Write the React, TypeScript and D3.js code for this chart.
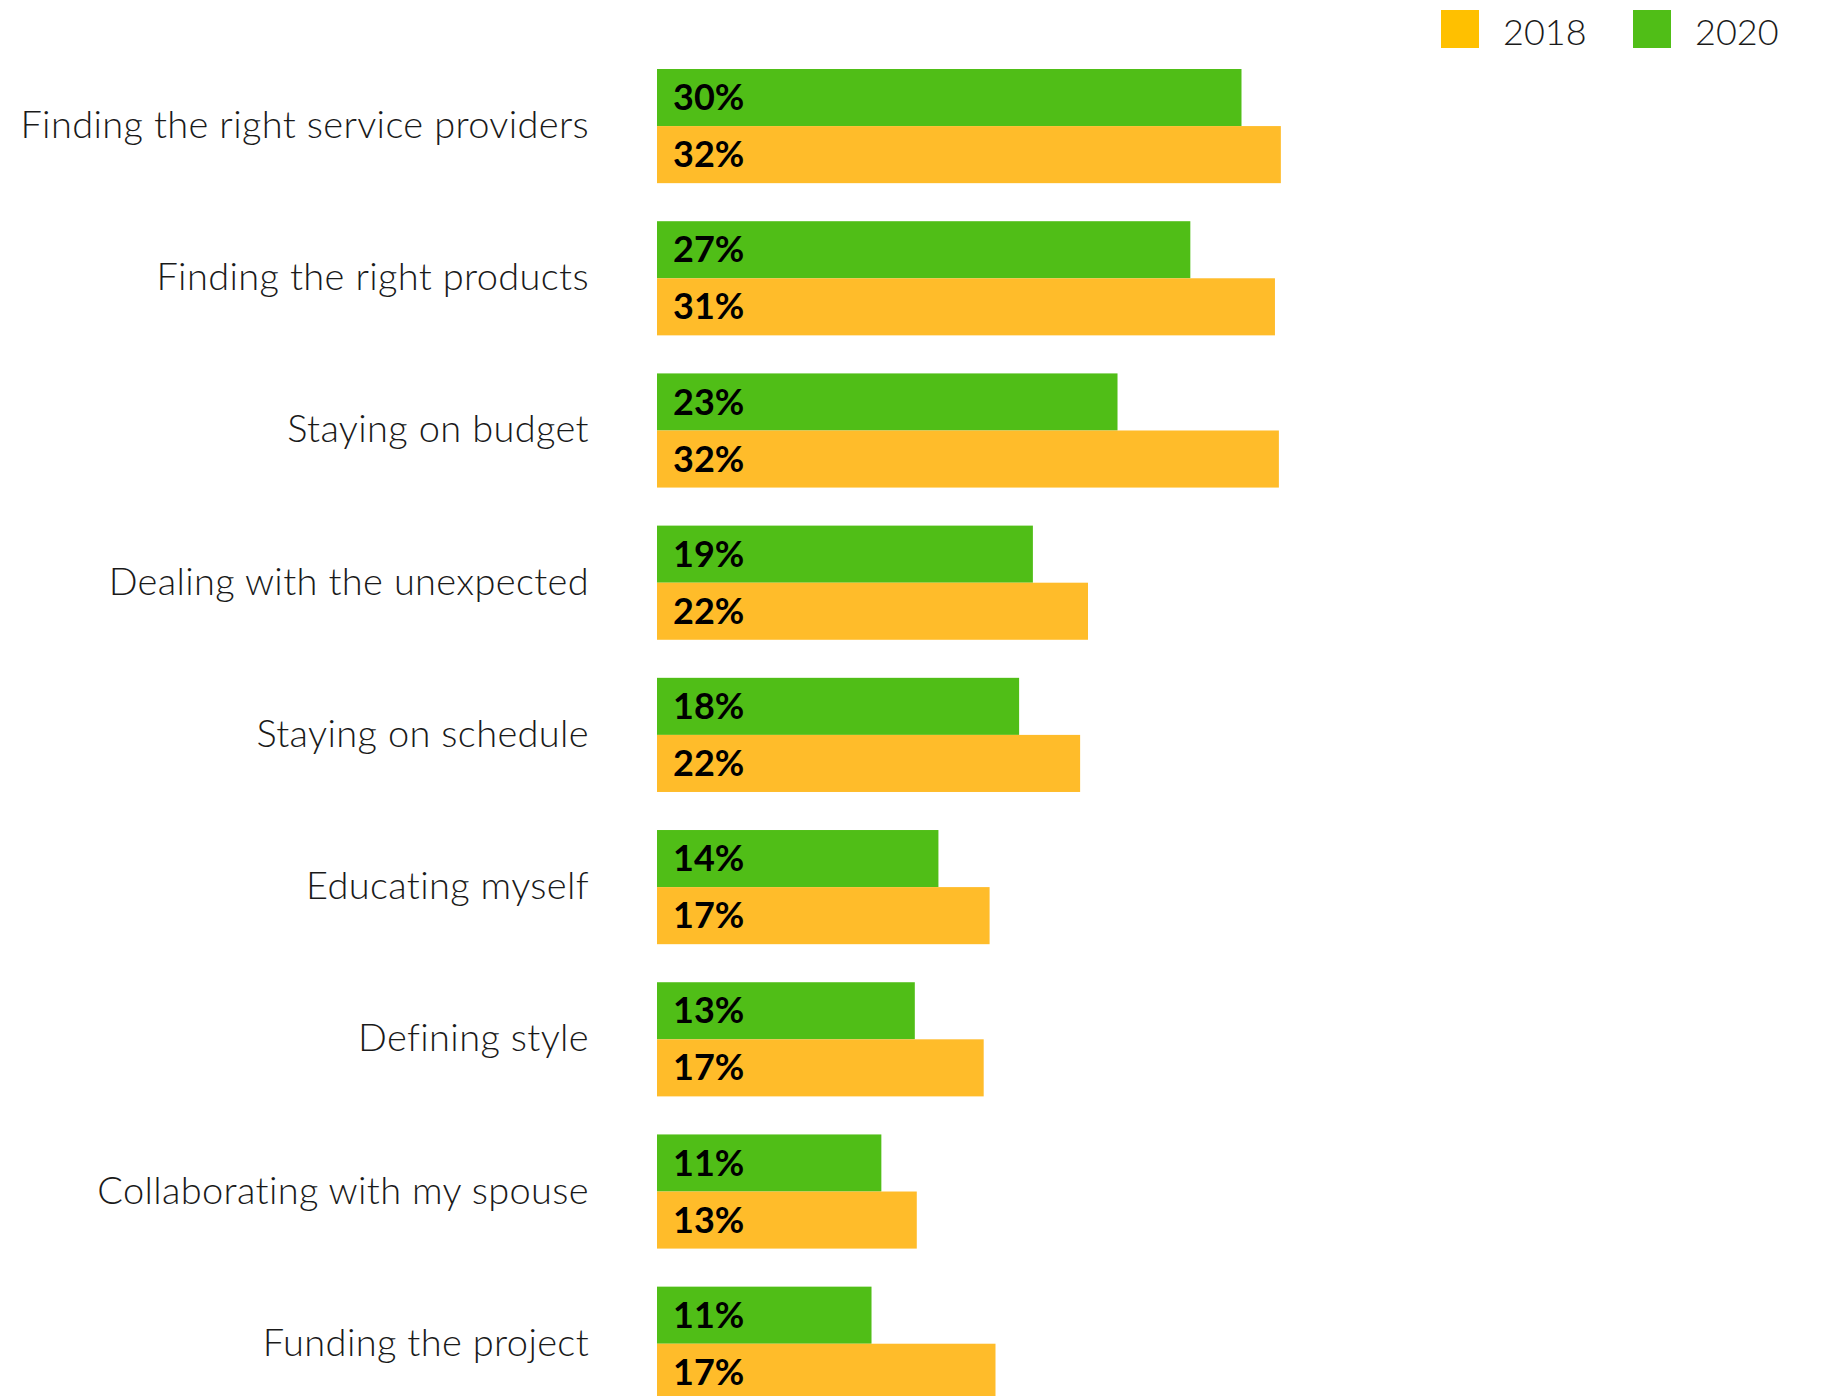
import { useEffect, useRef } from 'react'
import * as d3 from 'd3'

const categories = [
  'Finding the right service providers',
  'Finding the right products',
  'Staying on budget',
  'Dealing with the unexpected',
  'Staying on schedule',
  'Educating myself',
  'Defining style',
  'Collaborating with my spouse',
  'Funding the project',
]

// share of respondents, %
const values2020 = [29.7, 27.1, 23.4, 19.1, 18.4, 14.3, 13.1, 11.4, 10.9]
const values2018 = [31.7, 31.4, 31.6, 21.9, 21.5, 16.9, 16.6, 13.2, 17.2]

const seriesKeys = ['2020', '2018']
const legendKeys = ['2018', '2020']

const barColor: Record<string, string> = { '2020': '#50be17', '2018': '#ffbc2a' }
const legendColor: Record<string, string> = { '2020': '#50be17', '2018': '#ffc000' }

const W = 1823
const H = 1396

export default function App() {
  const ref = useRef<SVGSVGElement>(null)

  useEffect(() => {
    if (!ref.current) return
    const svg = d3.select(ref.current)
    svg.selectAll('*').remove()

    const rows = categories.map((c, i) => ({
      category: c,
      values: { '2020': values2020[i], '2018': values2018[i] } as Record<string, number>,
    }))

    const left = 657
    const x = d3.scaleLinear().domain([0, 100]).range([left, left + 1968])

    const y = d3
      .scaleBand<string>()
      .domain(categories)
      .range([69, 1400.8])
      .paddingInner(0.25)
      .paddingOuter(0)

    const ySub = d3.scaleBand<string>().domain(seriesKeys).range([0, y.bandwidth()])

    const font = 'Lato, "Open Sans", sans-serif'

    const groups = svg
      .append('g')
      .selectAll('g')
      .data(rows)
      .enter()
      .append('g')
      .attr('transform', (d) => `translate(0, ${y(d.category)})`)

    // bars
    groups
      .selectAll('rect')
      .data((d) => seriesKeys.map((k) => ({ key: k, value: d.values[k] })))
      .enter()
      .append('rect')
      .attr('x', x(0))
      .attr('y', (d) => ySub(d.key)!)
      .attr('width', (d) => x(d.value) - x(0))
      .attr('height', ySub.bandwidth())
      .style('fill', (d) => barColor[d.key])

    // value labels inside bars
    groups
      .selectAll('text.value')
      .data((d) => seriesKeys.map((k) => ({ key: k, value: d.values[k] })))
      .enter()
      .append('text')
      .attr('class', 'value')
      .attr('x', x(0) + 16)
      .attr('y', (d) => ySub(d.key)! + ySub.bandwidth() / 2 + 12.6)
      .style('font-family', font)
      .style('font-weight', '700')
      .style('font-size', '36px')
      .style('fill', '#000')
      .text((d) => `${Math.round(d.value)}%`)

    // category labels
    groups
      .append('text')
      .attr('x', 589)
      .attr('y', y.bandwidth() / 2 + 12)
      .style('text-anchor', 'end')
      .style('font-family', font)
      .style('font-weight', '300')
      .style('font-size', '38px')
      .style('letter-spacing', '0.35px')
      .style('fill', '#1a1a1a')
      .text((d) => d.category)

    // legend
    const legendX = d3.scalePoint<string>().domain(legendKeys).range([1441, 1633])
    const legend = svg
      .append('g')
      .selectAll('g')
      .data(legendKeys)
      .enter()
      .append('g')
      .attr('transform', (d) => `translate(${legendX(d)}, 10)`)

    legend
      .append('rect')
      .attr('width', 38)
      .attr('height', 38)
      .style('fill', (d) => legendColor[d])

    legend
      .append('text')
      .attr('x', 62)
      .attr('y', 35)
      .style('font-family', font)
      .style('font-weight', '300')
      .style('font-size', '36px')
      .style('fill', '#1a1a1a')
      .text((d) => d)
  }, [])

  return (
    <svg
      ref={ref}
      width={W}
      height={H}
      style={{ position: 'absolute', left: 0, top: 0, background: '#fff' }}
    />
  )
}
